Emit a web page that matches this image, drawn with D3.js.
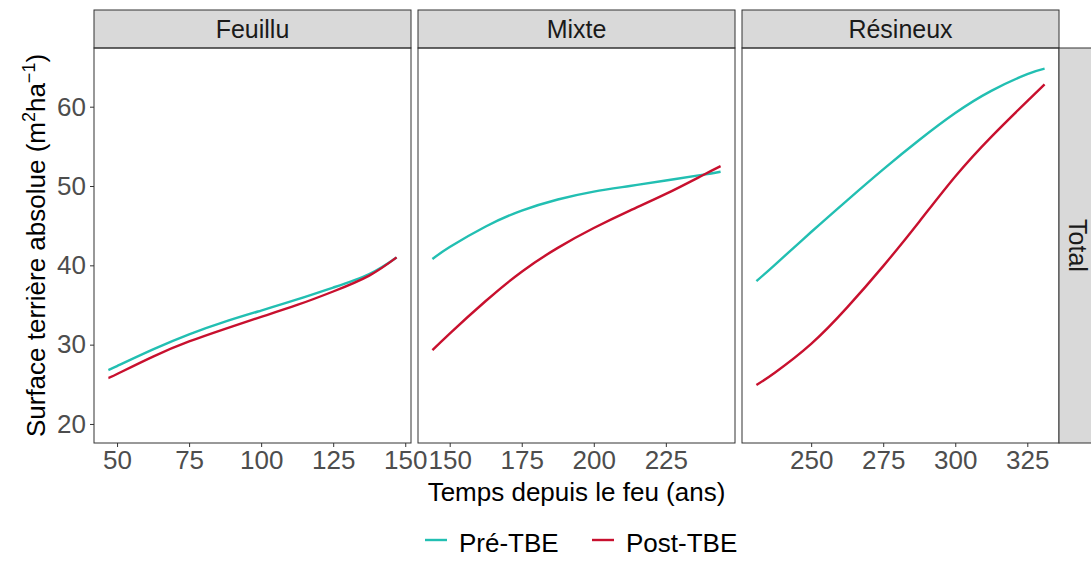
<!DOCTYPE html>
<html>
<head>
<meta charset="utf-8">
<script src="https://cdn.jsdelivr.net/npm/d3@7"></script>
<style>
  body { margin: 0; background: #fff; }
  svg { font-family: "Liberation Sans", Arial, sans-serif; }
  .tick text { fill: #4d4d4d; font-size: 26px; }
  .tick line { stroke: #333; }
  .domain { display: none; }
</style>
</head>
<body>
<div id="chart-area"></div>
<script>
const panels = ['Feuillu', 'Mixte', 'Résineux'];
const series = ['Pré-TBE', 'Post-TBE'];
const colors = ['#22bfb2', '#c8102e'];

const feuilluAge = [47, 50, 62.5, 75, 87.5, 100, 112.5, 125, 137.5, 147];
const feuilluPre = [26.8, 27.3, 29.4, 31.3, 32.9, 34.3, 35.7, 37.2, 38.9, 41.0];
const feuilluPost = [25.8, 26.3, 28.5, 30.4, 32.0, 33.5, 35.0, 36.7, 38.7, 41.0];

const mixteAge = [144, 150, 162.5, 175, 187.5, 200, 212.5, 225, 237.5, 244];
const mixtePre = [40.8, 42.3, 44.9, 46.9, 48.3, 49.3, 50.0, 50.7, 51.4, 51.8];
const mixtePost = [29.3, 31.4, 35.5, 39.2, 42.2, 44.7, 46.9, 49.0, 51.3, 52.5];

const resineuxAge = [231, 237.5, 250, 262.5, 275, 287.5, 300, 312.5, 325, 331];
const resineuxPre = [38.0, 40.1, 44.2, 48.2, 52.1, 55.8, 59.2, 62.0, 64.1, 64.8];
const resineuxPost = [24.9, 26.5, 30.1, 34.7, 39.9, 45.5, 51.2, 56.2, 60.7, 62.8];

const xTicks = [[50, 75, 100, 125, 150], [150, 175, 200, 225], [250, 275, 300, 325]];
const yTicks = [20, 30, 40, 50, 60];
const yDomain = [17.6, 67.4];

const panelData = [
  [feuilluAge, feuilluPre, feuilluPost],
  [mixteAge, mixtePre, mixtePost],
  [resineuxAge, resineuxPre, resineuxPost]
];

const chartSize = { width: 1091, height: 562 };
const margin = { left: 94, right: 32, top: 48, bottom: 119 };
const stripH = 38;
const gap = 7;
const panelW = (chartSize.width - margin.left - margin.right - 2 * gap) / 3;
const height = chartSize.height - margin.top - margin.bottom;

const svg = d3.select('#chart-area').append('svg')
  .attr('width', chartSize.width)
  .attr('height', chartSize.height);

const y = d3.scaleLinear().domain(yDomain).range([height, 0]);

panelData.forEach(([age, pre, post], i) => {
  const x0 = margin.left + i * (panelW + gap);
  const g = svg.append('g').attr('transform', `translate(${x0},${margin.top})`);
  const ext = d3.extent(age);
  const pad = (ext[1] - ext[0]) * 0.05;
  const x = d3.scaleLinear().domain([ext[0] - pad, ext[1] + pad]).range([0, panelW]);

  // strip on top
  g.append('rect')
    .attr('x', 0).attr('y', -stripH)
    .attr('width', panelW).attr('height', stripH)
    .attr('fill', '#d9d9d9').attr('stroke', '#333').attr('stroke-width', 1);
  g.append('text')
    .attr('x', panelW / 2).attr('y', -stripH / 2 + 9)
    .attr('text-anchor', 'middle')
    .attr('fill', '#1a1a1a').attr('font-size', 25)
    .text(panels[i]);

  g.append('g')
    .attr('class', 'x axis')
    .attr('transform', `translate(0,${height})`)
    .call(d3.axisBottom(x).tickValues(xTicks[i]).tickSize(4).tickPadding(4));

  if (i === 0) {
    g.append('g')
      .attr('class', 'y axis')
      .call(d3.axisLeft(y).tickValues(yTicks).tickSize(4).tickPadding(4));
  }

  const line = d3.line()
    .x(d => x(d[0]))
    .y(d => y(d[1]))
    .curve(d3.curveNatural);

  [pre, post].forEach((vals, s) => {
    g.append('path')
      .datum(age.map((a, k) => [a, vals[k]]))
      .attr('fill', 'none')
      .attr('stroke', colors[s])
      .attr('stroke-width', 2.4)
      .attr('d', line);
  });

  g.append('rect')
    .attr('x', 0).attr('y', 0)
    .attr('width', panelW).attr('height', height)
    .attr('fill', 'none').attr('stroke', '#333').attr('stroke-width', 1);
});

// right strip
const rightX = margin.left + 3 * panelW + 2 * gap;
svg.append('rect')
  .attr('x', rightX).attr('y', margin.top)
  .attr('width', stripH).attr('height', height)
  .attr('fill', '#d9d9d9').attr('stroke', '#333').attr('stroke-width', 1);
svg.append('text')
  .attr('transform', `translate(${rightX + stripH / 2 - 9},${margin.top + height / 2}) rotate(90)`)
  .attr('text-anchor', 'middle')
  .attr('fill', '#1a1a1a').attr('font-size', 25)
  .text('Total');

// axis titles
svg.append('text')
  .attr('x', margin.left + (3 * panelW + 2 * gap) / 2)
  .attr('y', 501)
  .attr('text-anchor', 'middle')
  .attr('font-size', 26)
  .text('Temps depuis le feu (ans)');

const ylabel = svg.append('text')
  .attr('transform', `translate(45,${margin.top + height / 2}) rotate(-90)`)
  .attr('text-anchor', 'middle')
  .attr('font-size', 26);
ylabel.append('tspan').text('Surface terrière absolue (m');
ylabel.append('tspan').attr('dy', -10).attr('font-size', 18).text('2');
ylabel.append('tspan').attr('dy', 10).text('ha');
ylabel.append('tspan').attr('dy', -10).attr('font-size', 18).text('\u22121');
ylabel.append('tspan').attr('dy', 10).text(')');

// legend
const legend = svg.append('g').attr('transform', 'translate(0,540)');
const legendX = [[425, 459], [592, 626]];
series.forEach((name, s) => {
  legend.append('line')
    .attr('x1', legendX[s][0]).attr('x2', legendX[s][0] + 22)
    .attr('y1', 0).attr('y2', 0)
    .attr('stroke', colors[s]).attr('stroke-width', 2.4);
  legend.append('text')
    .attr('x', legendX[s][1]).attr('y', 12)
    .attr('font-size', 26)
    .text(name);
});
</script>
</body>
</html>
